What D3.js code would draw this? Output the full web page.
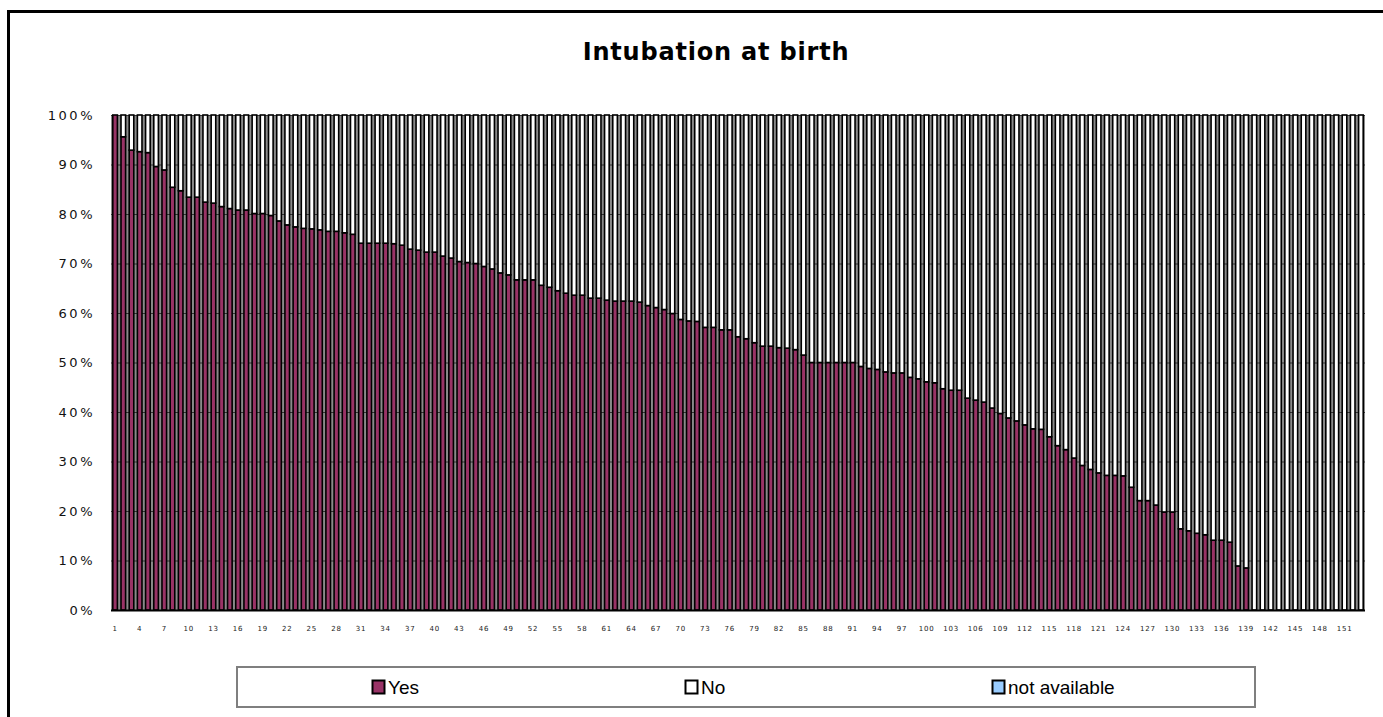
<!DOCTYPE html>
<html>
<head>
<meta charset="utf-8">
<script src="https://cdn.jsdelivr.net/npm/d3@7/dist/d3.min.js"></script>
<style>
  html, body { margin: 0; padding: 0; background: #fff; }
  svg { display: block; }
</style>
</head>
<body>
<svg id="chart" width="1383" height="717"></svg>
<script>
const title = "Intubation at birth";
const seriesNames = ["Yes", "No", "not available"];
const seriesColors = ["#993366", "#FFFFFF", "#99CCFF"];
const categories = d3.range(1, 154).map(String);
const yTicks = [0, 10, 20, 30, 40, 50, 60, 70, 80, 90, 100];

const yesValues = [
  100, 95.6, 92.9, 92.6, 92.4, 89.6, 88.9, 85.4, 84.7, 83.4,
  83.4, 82.4, 82.2, 81.5, 81.1, 80.8, 80.8, 80.1, 80.1, 79.7,
  78.6, 77.8, 77.4, 77.1, 77.0, 76.8, 76.5, 76.5, 76.2, 75.9,
  74.1, 74.1, 74.1, 74.1, 74.0, 73.7, 72.9, 72.7, 72.3, 72.3,
  71.5, 71.1, 70.4, 70.2, 70.0, 69.4, 68.9, 68.1, 67.7, 66.7,
  66.7, 66.7, 65.6, 65.2, 64.5, 64.0, 63.6, 63.6, 63.0, 63.0,
  62.6, 62.4, 62.4, 62.4, 62.2, 61.5, 61.1, 60.7, 59.9, 58.7,
  58.4, 58.3, 57.1, 57.1, 56.6, 56.6, 55.2, 54.8, 54.0, 53.3,
  53.3, 53.0, 52.9, 52.6, 51.5, 50, 50, 50, 50, 50,
  50, 49.2, 48.8, 48.6, 48.1, 47.9, 47.9, 47.0, 46.7, 46.1,
  45.9, 44.7, 44.4, 44.4, 42.8, 42.4, 42.0, 40.8, 39.7, 38.8,
  38.2, 37.4, 36.6, 36.5, 35.0, 33.2, 32.4, 30.7, 29.2, 28.4,
  27.7, 27.2, 27.2, 27.1, 24.8, 22.1, 22.1, 21.2, 19.8, 19.8,
  16.4, 16.0, 15.5, 15.2, 14.1, 14.1, 13.7, 8.9, 8.5, 0,
  0, 0, 0, 0, 0, 0, 0, 0, 0, 0,
  0, 0, 0
];

const noValues = [
  0, 4.4, 7.1, 7.4, 7.6, 10.4, 11.1, 14.6, 15.3, 16.6,
  16.6, 17.6, 17.8, 18.5, 18.9, 19.2, 19.2, 19.9, 19.9, 20.3,
  21.4, 22.2, 22.6, 22.9, 23.0, 23.2, 23.5, 23.5, 23.8, 24.1,
  25.9, 25.9, 25.9, 25.9, 26.0, 26.3, 27.1, 27.3, 27.7, 27.7,
  28.5, 28.9, 29.6, 29.8, 30.0, 30.6, 31.1, 31.9, 32.3, 33.3,
  33.3, 33.3, 34.4, 34.8, 35.5, 36.0, 36.4, 36.4, 37.0, 37.0,
  37.4, 37.6, 37.6, 37.6, 37.8, 38.5, 38.9, 39.3, 40.1, 41.3,
  41.6, 41.7, 42.9, 42.9, 43.4, 43.4, 44.8, 45.2, 46.0, 46.7,
  46.7, 47.0, 47.1, 47.4, 48.5, 50, 50, 50, 50, 50,
  50, 50.8, 51.2, 51.4, 51.9, 52.1, 52.1, 53.0, 53.3, 53.9,
  54.1, 55.3, 55.6, 55.6, 57.2, 57.6, 58.0, 59.2, 60.3, 61.2,
  61.8, 62.6, 63.4, 63.5, 65.0, 66.8, 67.6, 69.3, 70.8, 71.6,
  72.3, 72.8, 72.8, 72.9, 75.2, 77.9, 77.9, 78.8, 80.2, 80.2,
  83.6, 84.0, 84.5, 84.8, 85.9, 85.9, 86.3, 91.1, 91.5, 100,
  100, 100, 100, 100, 100, 100, 100, 100, 100, 100,
  100, 100, 100
];

const notAvailableValues = []; // no missing-data segments are drawn

const svg = d3.select("#chart");
const W = 1383, H = 717;
const plot = { left: 111, right: 1365, top: 115, bottom: 610 };

// outer chart border
svg.append("rect")
  .attr("x", 8.5).attr("y", 11.5)
  .attr("width", W + 20).attr("height", H + 20)
  .attr("fill", "#fff").attr("stroke", "#000").attr("stroke-width", 3);

// title
svg.append("text")
  .attr("x", 716).attr("y", 60)
  .attr("text-anchor", "middle")
  .attr("font-family", "DejaVu Sans, Verdana, sans-serif")
  .attr("font-weight", "bold")
  .attr("font-size", 24)
  .attr("letter-spacing", 0.8)
  .text(title);

const x = d3.scaleBand().domain(categories).range([plot.left, plot.right]).paddingInner(0.44).paddingOuter(0.22);
const y = d3.scaleLinear().domain([0, 100]).range([plot.bottom, plot.top]);

// plot background
svg.append("rect")
  .attr("x", plot.left).attr("y", plot.top)
  .attr("width", plot.right - plot.left).attr("height", plot.bottom - plot.top)
  .attr("fill", "#8a8a8a");

// gridlines
svg.append("g").selectAll("line").data(yTicks).join("line")
  .attr("x1", plot.left).attr("x2", plot.right)
  .attr("y1", d => y(d) + 0.5).attr("y2", d => y(d) + 0.5)
  .attr("stroke", "#333").attr("stroke-width", 1);

// stacked data
const rows = categories.map((c, i) => ({
  cat: c,
  "Yes": yesValues[i],
  "No": noValues[i],
  "not available": notAvailableValues[i] || 0
}));
const stacked = d3.stack().keys(seriesNames)(rows);

stacked.forEach((layer, li) => {
  svg.append("g")
    .selectAll("rect")
    .data(layer.filter(d => d[1] - d[0] > 0))
    .join("rect")
    .attr("x", d => x(d.data.cat))
    .attr("width", x.bandwidth())
    .attr("y", d => y(d[1]))
    .attr("height", d => y(d[0]) - y(d[1]))
    .attr("fill", seriesColors[li])
    .attr("stroke", "#000")
    .attr("stroke-width", 1.6);
});

// bottom axis line
svg.append("line")
  .attr("x1", plot.left).attr("x2", plot.right)
  .attr("y1", plot.bottom + 0.5).attr("y2", plot.bottom + 0.5)
  .attr("stroke", "#000").attr("stroke-width", 2);

// y axis labels
const yAxis = d3.axisLeft(y).tickValues(yTicks).tickFormat(d => d + "%").tickSize(0).tickPadding(16);
const gy = svg.append("g").attr("transform", `translate(${plot.left},0)`).call(yAxis);
gy.select(".domain").remove();
gy.selectAll("text")
  .attr("font-family", "DejaVu Sans, Verdana, sans-serif")
  .attr("font-size", 13)
  .attr("letter-spacing", 2.5)
  .attr("fill", "#111");

// x axis labels
const xAxis = d3.axisBottom(x)
  .tickValues(categories.filter((c, i) => i % 3 === 0))
  .tickSize(0).tickPadding(16);
const gx = svg.append("g").attr("transform", `translate(0,${plot.bottom})`).call(xAxis);
gx.select(".domain").remove();
gx.selectAll("text")
  .attr("font-family", "DejaVu Sans, Verdana, sans-serif")
  .attr("font-size", 7)
  .attr("letter-spacing", 0.8)
  .attr("fill", "#222");

// legend
const leg = { x: 237, y: 667, w: 1018, h: 40 };
svg.append("rect")
  .attr("x", leg.x).attr("y", leg.y).attr("width", leg.w).attr("height", leg.h)
  .attr("fill", "#fff").attr("stroke", "#7f7f7f").attr("stroke-width", 2);

const legendX = [372, 685, 992];
const lg = svg.append("g").selectAll("g").data(seriesNames).join("g")
  .attr("transform", (d, i) => `translate(${legendX[i]},${leg.y + leg.h / 2})`);
lg.append("rect")
  .attr("x", 0.5).attr("y", -6.5).attr("width", 12).attr("height", 13)
  .attr("fill", (d, i) => seriesColors[i])
  .attr("stroke", "#000").attr("stroke-width", 2);
lg.append("text")
  .attr("x", 16).attr("y", 7)
  .attr("font-family", "Liberation Sans, Arial, sans-serif")
  .attr("font-size", 19)
  .attr("fill", "#000")
  .text(d => d);
</script>
</body>
</html>
